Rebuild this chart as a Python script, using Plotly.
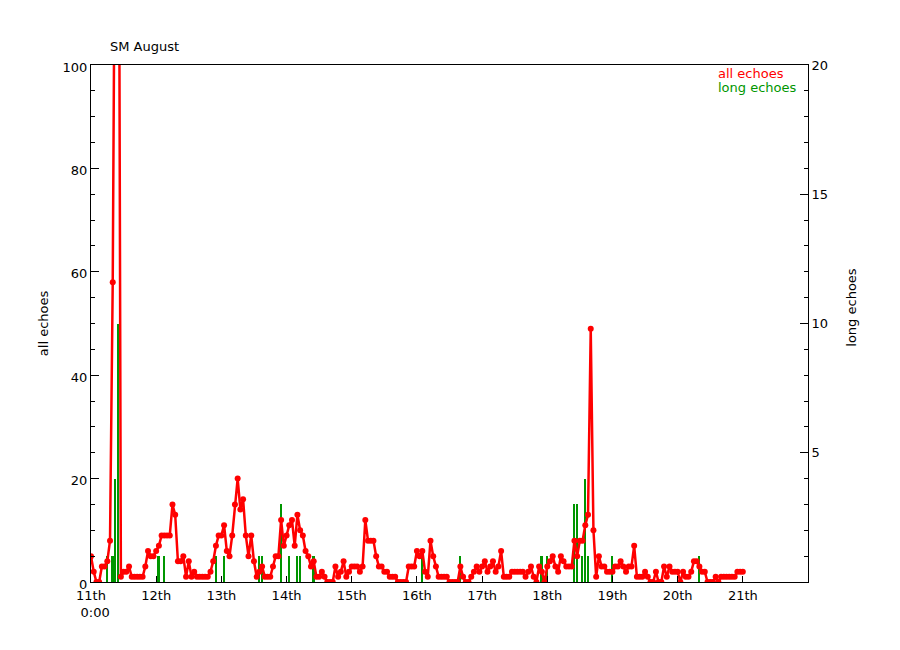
import plotly.graph_objects as go

# ---------------- data ----------------
start_day = 11  # 11th August, 0:00
day_ticks = [11, 12, 13, 14, 15, 16, 17, 18, 19, 20, 21]
day_labels = ["11th<br>\u00a0\u00a00:00", "12th", "13th", "14th", "15th", "16th",
              "17th", "18th", "19th", "20th", "21th"]

# hourly counts of all echoes starting 11th 0:00
all_echoes = (
    [5, 2, 0, 0, 3, 3, 4, 8, 58, 150, 190, 1, 2, 2, 3, 1, 1, 1, 1, 1, 3, 6, 5, 5]        # 11th
    + [6, 7, 9, 9, 9, 9, 15, 13, 4, 4, 5, 1, 4, 1, 2, 1, 1, 1, 1, 1, 2, 4, 7, 9]        # 12th
    + [9, 11, 6, 5, 9, 15, 20, 14, 16, 9, 5, 9, 4, 1, 2, 3, 1, 1, 1, 3, 5, 5, 12, 7]    # 13th
    + [9, 11, 12, 7, 13, 10, 9, 6, 5, 3, 4, 1, 1, 2, 1, 0, 0, 0, 3, 1, 2, 4, 1, 2]      # 14th
    + [3, 3, 3, 2, 3, 12, 8, 8, 8, 5, 3, 3, 2, 2, 1, 1, 1, 0, 0, 0, 0, 3, 3, 3]         # 15th
    + [6, 5, 6, 2, 1, 8, 5, 3, 1, 1, 1, 1, 0, 0, 0, 0, 3, 1, 0, 0, 1, 2, 3, 2]          # 16th
    + [3, 4, 2, 3, 4, 2, 3, 6, 1, 1, 1, 2, 2, 2, 2, 2, 1, 2, 3, 1, 0, 3, 2, 0]          # 17th
    + [3, 4, 5, 3, 2, 5, 4, 3, 3, 3, 8, 5, 8, 8, 11, 13, 49, 10, 1, 5, 3, 3, 2, 2]      # 18th
    + [2, 3, 3, 4, 3, 2, 3, 3, 7, 1, 1, 1, 2, 1, 0, 0, 2, 0, 0, 3, 1, 3, 2, 2]          # 19th
    + [2, 0, 2, 1, 1, 2, 4, 4, 3, 2, 2, 0, 0, 0, 1, 0, 1, 1, 1, 1, 1, 1, 2, 2, 2]       # 20th
)

# long echoes: hour offset from 11th 0:00 and count
long_hours = [6, 8, 9, 10, 25, 27, 46, 49, 62, 63, 70, 73, 76, 77, 82, 122, 136,
              166, 168, 178, 179, 181, 182, 183, 192, 224]
long_counts = [1, 1, 4, 10, 1, 1, 1, 1, 1, 1, 3, 1, 1, 1, 1, 1, 1,
               1, 1, 3, 3, 1, 4, 1, 1, 1]

# ---------------- figure ----------------
x_all = [start_day + h / 24 for h in range(len(all_echoes))]
x_long = [start_day + h / 24 for h in long_hours]

RED = "#ff0000"
GREEN = "#009600"
FONT = "DejaVu Sans"
FS = 13

fig = go.Figure()

fig.add_trace(go.Bar(
    x=x_long, y=long_counts, yaxis="y", width=0.028,
    marker=dict(color=GREEN, line=dict(width=0)), showlegend=False,
))

fig.add_trace(go.Scatter(
    x=x_all, y=all_echoes, yaxis="y2", mode="lines+markers",
    line=dict(color=RED, width=2.5),
    marker=dict(color=RED, size=6),
    showlegend=False,
))

axis_common = dict(showline=True, linecolor="black", linewidth=1,
                   showgrid=False, zeroline=False, ticks="inside",
                   tickcolor="black",
                   tickfont=dict(family=FONT, size=FS, color="black"))

fig.update_layout(
    width=900, height=650,
    margin=dict(l=83, r=100, t=57, b=76),
    paper_bgcolor="white", plot_bgcolor="white",
    font=dict(family=FONT, size=FS, color="black"),
    bargap=0,
    xaxis=dict(range=[11, 22], tickvals=day_ticks, ticktext=day_labels,
               ticklen=6, mirror=True, ticklabelstandoff=1, **axis_common),
    yaxis=dict(range=[0, 20], side="right", tickvals=[5, 10, 15, 20],
               ticklen=8, minor=dict(dtick=1, ticks="inside", ticklen=4,
                                     tickcolor="black"),
               **axis_common),
    yaxis2=dict(range=[0, 100], side="left", overlaying="y",
                tickvals=[0, 20, 40, 60, 80, 100], ticklabelshift=2,
                ticklen=8, minor=dict(dtick=5, ticks="inside", ticklen=4,
                                      tickcolor="black"),
                **axis_common),
    annotations=[
        dict(text="SM August", xref="paper", yref="paper", x=0.0237, y=1.035,
             xanchor="left", yanchor="middle", showarrow=False,
             font=dict(family=FONT, size=FS)),
        dict(text="all echoes", xref="paper", yref="paper", x=0.872, y=0.9845,
             xanchor="left", yanchor="middle", showarrow=False,
             font=dict(family=FONT, size=FS, color=RED)),
        dict(text="long echoes", xref="paper", yref="paper", x=0.872, y=0.957,
             xanchor="left", yanchor="middle", showarrow=False,
             font=dict(family=FONT, size=FS, color=GREEN)),
        dict(text="all echoes", xref="paper", yref="paper", x=-0.066, y=0.5,
             xanchor="center", yanchor="middle", textangle=-90, showarrow=False,
             font=dict(family=FONT, size=FS)),
        dict(text="long echoes", xref="paper", yref="paper", x=1.061, y=0.532,
             xanchor="center", yanchor="middle", textangle=-90, showarrow=False,
             font=dict(family=FONT, size=FS)),
    ],
)

fig.write_html("out.html")
